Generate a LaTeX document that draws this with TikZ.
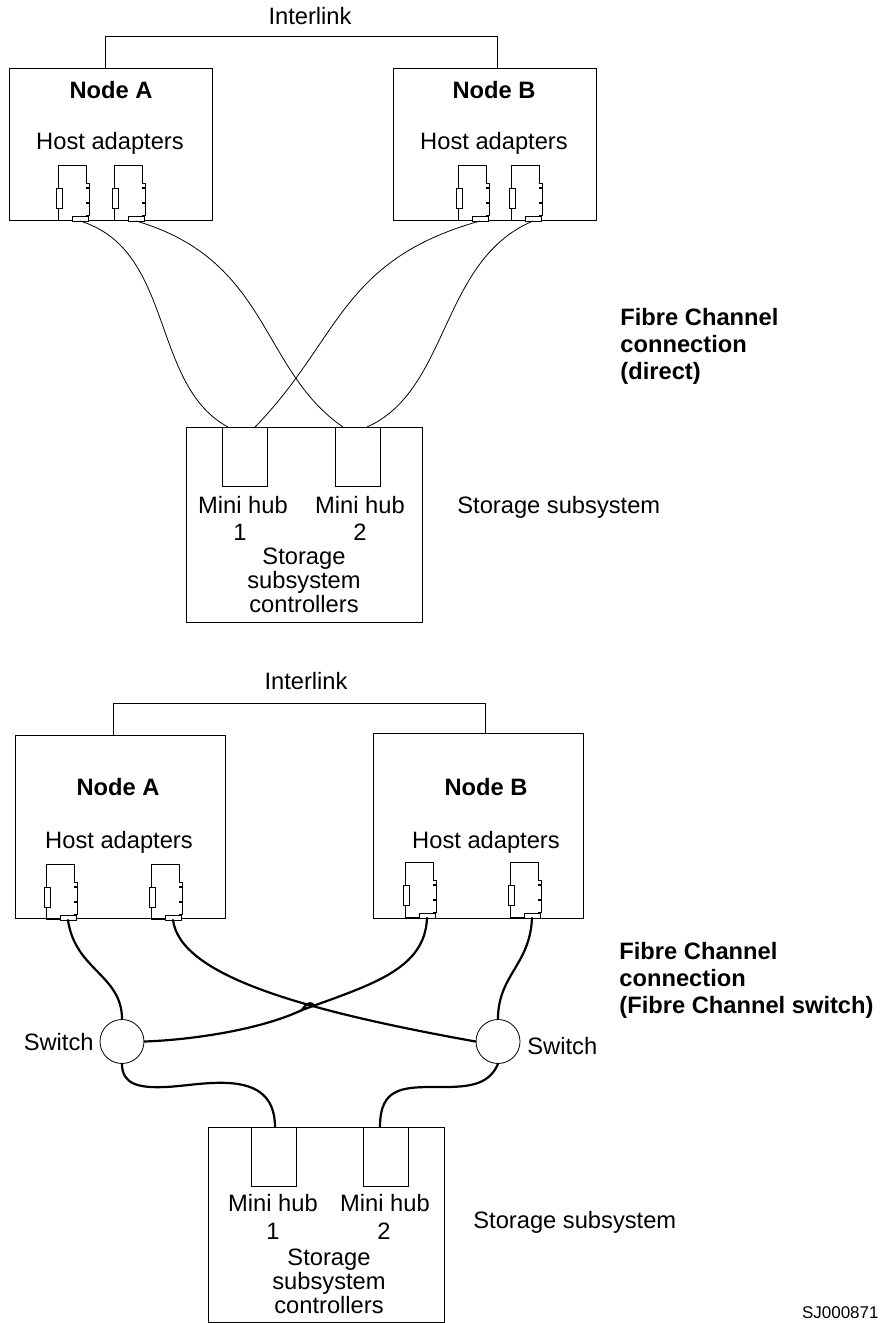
\documentclass[tikz,border=0pt]{standalone}
\usepackage{fontspec}
\setmainfont{Liberation Sans}
\tikzset{
  box/.style={draw,inner sep=0pt,anchor=north west},
  txt/.style={font=\fontsize{23.7}{24}\selectfont,inner sep=0pt,align=center},
  head/.style={txt,font=\fontsize{23.7}{27}\selectfont\bfseries},
  note/.style={head,align=left,anchor=north west},
  sw/.style={circle,draw,fill=white,inner sep=0pt,minimum size=44pt},
  cable/.style={line width=0.8pt},
  heavy/.style={line width=2.2pt,line cap=round},
  adapter/.pic={
    \draw (0,55) -- (0,0) -- (28,0) -- (28,18) -- (31,18) -- (31,50) -- (28,50) -- (28,55) -- cycle;
    \draw[fill=white] (-2,23) rectangle (4,43);
    \draw[line width=1.4pt] (28,23) -- (31,23) (28,38) -- (31,38);
    \draw[fill=white] (14,51) rectangle (30,56);
    \coordinate (-port) at (22,56);
  }
}
\begin{document}
\begin{tikzpicture}[x=1pt,y=-1pt,line width=0.8pt]
\useasboundingbox (0,0) rectangle (880,1323);
% direct connection
\node[box,minimum width=203pt,minimum height=152pt] (nodeA) at (9,68) {};
\node[box,minimum width=203pt,minimum height=152pt] (nodeB) at (393,68) {};
\coordinate (linkA) at (105,68);
\coordinate (linkB) at (497,68);
\draw (linkA) -- (105,36) -- (497,36) -- (linkB);
\node[txt] (link) at (310,16) {Interlink};
\node[head] (labelA) at (111,90) {Node A};
\node[head] (labelB) at (494,90) {Node B};
\node[txt] (hostA) at (110,143) {Host adapters};
\node[txt] (hostB) at (494,143) {Host adapters};
\pic (a1) at (58,165) {adapter};
\pic (a2) at (114,165) {adapter};
\pic (b1) at (458,165) {adapter};
\pic (b2) at (511,165) {adapter};
\node[box,minimum width=236pt,minimum height=195pt] (sub) at (186,427) {};
\node[box,minimum width=45pt,minimum height=59pt] (hub1) at (222,427) {};
\node[box,minimum width=45pt,minimum height=59pt] (hub2) at (335,427) {};
\coordinate (h1a) at (228,427);
\coordinate (h1b) at (255,427);
\coordinate (h2a) at (343,427);
\coordinate (h2b) at (367,427);
\draw[cable] (a1-port) .. controls (175,250) and (150,385) .. (h1a);
\draw[cable] (a2-port) .. controls (270,260) and (260,370) .. (h2a);
\draw[cable] (b1-port) .. controls (340,260) and (340,340) .. (h1b);
\draw[cable] (b2-port) .. controls (440,260) and (450,390) .. (h2b);
\node[txt] (mini1) at (243,505) {Mini hub};
\node[txt] (mini2) at (360,505) {Mini hub};
\node[txt] (num1) at (240,532) {1};
\node[txt] (num2) at (360,532) {2};
\node[txt] (ctrl) at (304,580) {Storage\\subsystem\\controllers};
\node[txt,anchor=west] (store) at (457,507) {Storage subsystem};
\node[note] (fibre) at (620,308) {Fibre Channel\\connection\\(direct)};
% switch connection
\node[box,minimum width=210pt,minimum height=183pt] (nodeC) at (15,735) {};
\node[box,minimum width=210pt,minimum height=185pt] (nodeD) at (373,733) {};
\coordinate (linkC) at (113,735);
\coordinate (linkD) at (485,733);
\draw (linkC) -- (113,703) -- (485,703) -- (linkD);
\node[txt] (link2) at (306,681) {Interlink};
\node[head] (labelC) at (118,787) {Node A};
\node[head] (labelD) at (486,787) {Node B};
\node[txt] (hostC) at (119,842) {Host adapters};
\node[txt] (hostD) at (486,842) {Host adapters};
\pic (c1) at (46,864) {adapter};
\pic (c2) at (151,864) {adapter};
\pic (d1) at (405,862) {adapter};
\pic (d2) at (510,862) {adapter};
\node[sw] (sw1) at (122,1041.5) {};
\node[sw] (sw2) at (498,1041.5) {};
\node[txt,anchor=east] (swl1) at (94,1042) {Switch};
\node[txt,anchor=west] (swl2) at (527,1046) {Switch};
\node[box,minimum width=236pt,minimum height=195pt] (sub2) at (208,1127) {};
\node[box,minimum width=45pt,minimum height=59pt] (hub3) at (251,1127) {};
\node[box,minimum width=45pt,minimum height=59pt] (hub4) at (363,1127) {};
\coordinate (h3) at (275,1127);
\coordinate (h4) at (380,1127);
\coordinate (bump) at (302,1010);
\draw[heavy] (c1-port) .. controls (75,970) and (122,975) .. (sw1.north);
\draw[heavy] (d2-port) .. controls (530,965) and (498,975) .. (sw2.north);
\draw[heavy] (c2-port) .. controls (180,975) and (300,1010) .. (sw2.west);
\draw[heavy] (d1-port) .. controls (425,970) and (370,985) .. (bump) .. controls (306,1004) and (309,1002) .. (313,1004);
\draw[heavy] (bump) .. controls (260,1030) and (190,1040) .. (sw1.east);
\draw[heavy] (sw1.south) .. controls (122,1085) and (140,1088) .. (165,1087) .. controls (200,1086) and (275,1065) .. (h3);
\draw[heavy] (sw2.south) .. controls (490,1082) and (475,1087) .. (445,1087) .. controls (405,1087) and (380,1085) .. (h4);
\node[txt] (mini3) at (273,1203) {Mini hub};
\node[txt] (mini4) at (385,1203) {Mini hub};
\node[txt] (num3) at (273,1231) {1};
\node[txt] (num4) at (384,1231) {2};
\node[txt] (ctrl2) at (329,1281) {Storage\\subsystem\\controllers};
\node[txt,anchor=west] (store2) at (473,1222) {Storage subsystem};
\node[note] (fibre2) at (619,942) {Fibre Channel\\connection\\(Fibre Channel switch)};
\node[txt,anchor=east,font=\fontsize{17}{19}\selectfont] (code) at (879,1313) {SJ000871};
\end{tikzpicture}
\end{document}
